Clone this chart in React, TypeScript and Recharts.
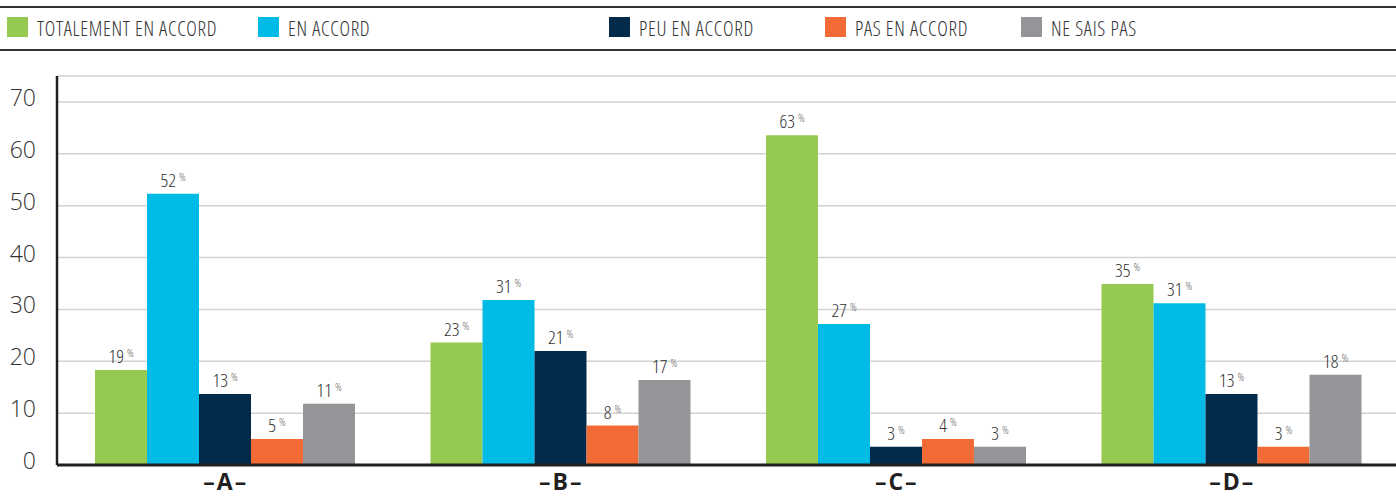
import React from 'react';
import { BarChart, Bar, XAxis, YAxis, CartesianGrid, LabelList } from 'recharts';

const categories = ['–A–', '–B–', '–C–', '–D–'];
const totalementValues = [18.3, 23.6, 63.6, 34.9];
const accordValues = [52.3, 31.8, 27.2, 31.2];
const peuValues = [13.7, 22.0, 3.5, 13.7];
const pasValues = [5.0, 7.6, 5.0, 3.5];
const nspValues = [11.8, 16.4, 3.5, 17.4];

const totalementLabels = [19, 23, 63, 35];
const accordLabels = [52, 31, 27, 31];
const peuLabels = [13, 21, 3, 13];
const pasLabels = [5, 8, 4, 3];
const nspLabels = [11, 17, 3, 18];

const yTicks = [0, 10, 20, 30, 40, 50, 60, 70];

const series = [
  { key: 'totalement', name: 'TOTALEMENT EN ACCORD', color: '#96c94f', values: totalementValues, labels: totalementLabels },
  { key: 'accord', name: 'EN ACCORD', color: '#00bbe6', values: accordValues, labels: accordLabels },
  { key: 'peu', name: 'PEU EN ACCORD', color: '#012a4b', values: peuValues, labels: peuLabels },
  { key: 'pas', name: 'PAS EN ACCORD', color: '#f26b37', values: pasValues, labels: pasLabels },
  { key: 'nsp', name: 'NE SAIS PAS', color: '#939598', values: nspValues, labels: nspLabels },
];

const legendLefts = [7, 258, 609, 825, 1021];

const data = categories.map((c, i) => {
  const row: any = { name: c };
  series.forEach((s) => {
    row[s.key] = s.values[i];
  });
  return row;
});

const FONT = "'Open Sans', 'Noto Sans', sans-serif";

const makeLabel = (labels: number[]) => (props: any) => {
  const { x, y, width, index } = props;
  return (
    <text
      x={x + width / 2}
      y={y - 7}
      textAnchor="middle"
      fontFamily={FONT}
      style={{ fontStretch: '82%' }}
      fontWeight={300}
      fill="#333"
    >
      <tspan fontSize={19}>{labels[index]}</tspan>
      <tspan fontSize={11} dx={3} dy={-6} fill="#666">%</tspan>
    </text>
  );
};

const XTick = (props: any) => {
  const { x, y, payload } = props;
  return (
    <text x={x + 1} y={y + 17} textAnchor="middle" fontFamily={FONT} fontWeight={700} fontSize={23} letterSpacing={2} fill="#231f20">
      {payload.value}
    </text>
  );
};

const YTick = (props: any) => {
  const { x, y, payload } = props;
  return (
    <text x={x} y={y + 4} textAnchor="end" fontFamily={FONT} fontWeight={300} fontSize={23} fill="#333">
      {payload.value}
    </text>
  );
};

export default function App() {
  return (
    <div style={{ position: 'absolute', top: 0, left: 0, width: 1396, height: 496, overflow: 'hidden', background: '#fff' }}>
      <div style={{ position: 'absolute', top: 0, left: 0 }}>
        <BarChart width={1400} height={496} data={data} margin={{ top: 76, right: 1, left: 0, bottom: 0 }} barGap={0} barSize={52}>
          <CartesianGrid vertical={false} stroke="#d3d3d3" strokeWidth={1.5} />
          <XAxis dataKey="name" height={31} axisLine={{ stroke: '#231f20', strokeWidth: 3 }} tickLine={false} tick={<XTick />} interval={0} />
          <YAxis
            width={57}
            domain={[0, 75]}
            ticks={yTicks}
            axisLine={{ stroke: '#231f20', strokeWidth: 2.5 }}
            tickLine={false}
            tickSize={0}
            tickMargin={21}
            tick={<YTick />}
            interval={0}
          />
          {series.map((s) => (
            <Bar key={s.key} dataKey={s.key} name={s.name} fill={s.color} isAnimationActive={false}>
              <LabelList dataKey={s.key} content={makeLabel(s.labels)} />
            </Bar>
          ))}
        </BarChart>
      </div>
      <div style={{ position: 'absolute', top: 6, left: 0, width: 1396, height: 2, background: '#333' }} />
      <div style={{ position: 'absolute', top: 49, left: 0, width: 1396, height: 2, background: '#333' }} />
      {series.map((s, i) => (
        <div key={s.key} style={{ position: 'absolute', left: legendLefts[i], top: 17, height: 20, display: 'flex', alignItems: 'center' }}>
          <div style={{ width: 21, height: 20, background: s.color }} />
          <span style={{ marginLeft: 9, marginTop: 4, fontFamily: FONT, fontWeight: 300, fontStretch: '80%', fontSize: 20, letterSpacing: 0.7, color: '#333', lineHeight: '20px', whiteSpace: 'nowrap' }}>{s.name}</span>
        </div>
      ))}
    </div>
  );
}
